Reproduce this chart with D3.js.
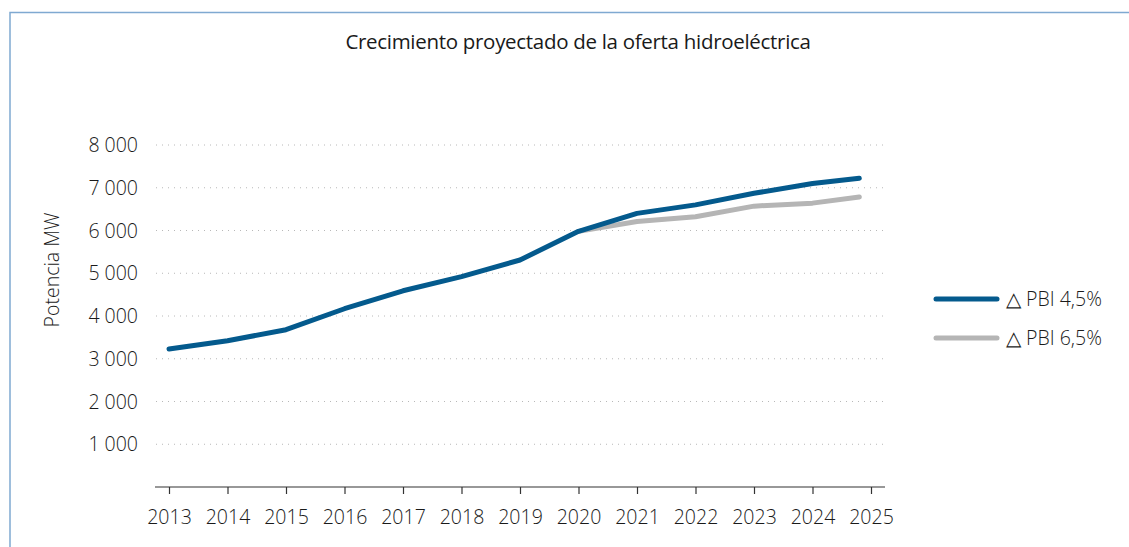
<!DOCTYPE html>
<html>
<head>
<meta charset="utf-8">
<script src="https://cdn.jsdelivr.net/npm/d3@7"></script>
<style>
  body { margin: 0; background: #fff; }
  svg text { font-family: "Open Sans", "Noto Sans", sans-serif; fill: #1a1a1a; font-weight: 300; }
</style>
</head>
<body>
<svg id="chart" width="1129" height="547"></svg>
<script>
// data
const years = [2013, 2014, 2015, 2016, 2017, 2018, 2019, 2020, 2021, 2022, 2023, 2024, 2024.8];
const pbi45 = [3230, 3420, 3680, 4170, 4590, 4920, 5310, 5980, 6400, 6600, 6870, 7100, 7220];
const pbi65 = [null, null, null, null, null, null, null, 5980, 6210, 6320, 6570, 6640, 6785];
const tickYears = [2013, 2014, 2015, 2016, 2017, 2018, 2019, 2020, 2021, 2022, 2023, 2024, 2025];
const yTicks = [1000, 2000, 3000, 4000, 5000, 6000, 7000, 8000];
const seriesNames = ["\u25B3 PBI 4,5%", "\u25B3 PBI 6,5%"];
const colors = ["#045a8d", "#b5b5b5"];

const svg = d3.select('#chart');

// frame
svg.append('path')
    .attr('d', 'M10,547 L10,12.5 L1129,12.5')
    .attr('fill', 'none')
    .attr('stroke', '#7fa9d1')
    .attr('stroke-width', 1.5);

// title
svg.append('text')
    .attr('x', 578)
    .attr('y', 49)
    .attr('text-anchor', 'middle')
    .style('font-size', '20.5px')
    .style('font-weight', 400)
    .style('letter-spacing', '-0.3px')
    .text('Crecimiento proyectado de la oferta hidroeléctrica');

const x = d3.scaleLinear().domain([2013, 2025]).range([169, 871]);
const y = d3.scaleLinear().domain([0, 8000]).range([487, 145]);

// grid
svg.append('g')
    .selectAll('line')
    .data(yTicks)
    .enter()
    .append('line')
    .attr('x1', 156)
    .attr('x2', 885)
    .attr('y1', (d) => y(d))
    .attr('y2', (d) => y(d))
    .attr('stroke', '#b8b8b8')
    .attr('stroke-width', 1)
    .attr('stroke-dasharray', '1,5');

// y labels
svg.append('g')
    .selectAll('text')
    .data(yTicks)
    .enter()
    .append('text')
    .attr('x', 138)
    .attr('y', (d) => y(d) + 7)
    .attr('text-anchor', 'end')
    .style('font-size', '19.5px')
    .style('white-space', 'pre')
    .text((d) => d3.format(',')(d).replace(',', ' '));

svg.append('text')
    .attr('transform', 'translate(59, 270) rotate(-90)')
    .attr('text-anchor', 'middle')
    .style('font-size', '19.5px')
    .text('Potencia MW');

// x axis
const xAxis = d3.axisBottom(x)
    .tickValues(tickYears)
    .tickFormat(d3.format('d'))
    .tickSize(7)
    .tickSizeOuter(0);

const gx = svg.append('g')
    .attr('transform', `translate(0, ${y(0)})`)
    .call(xAxis);
gx.select('.domain').remove();
gx.append('line')
    .attr('x1', 155)
    .attr('x2', 885)
    .attr('stroke', '#333')
    .attr('stroke-width', 1.2);
gx.selectAll('.tick line').attr('stroke', '#333').attr('stroke-width', 1.2);
gx.selectAll('.tick text')
    .attr('y', 23)
    .style('font-size', '19.5px')
    .style('fill', '#1a1a1a')
    .style('font-weight', 300)
    .style('font-family', '"Open Sans", "Noto Sans", sans-serif');

// lines
const line = d3.line()
    .defined((d) => d[1] != null)
    .x((d) => x(d[0]))
    .y((d) => y(d[1]));

const series = [pbi65, pbi45];
const seriesColors = [colors[1], colors[0]];
series.forEach((vals, i) => {
    svg.append('path')
        .datum(years.map((yr, j) => [yr, vals[j]]))
        .attr('d', line)
        .attr('fill', 'none')
        .attr('stroke', seriesColors[i])
        .attr('stroke-width', 5)
        .attr('stroke-linecap', 'round')
        .attr('stroke-linejoin', 'round');
});

// legend
const legend = svg.append('g')
    .attr('transform', 'translate(936, 299)');

const legendItem = legend.selectAll('g')
    .data(seriesNames)
    .enter()
    .append('g')
    .attr('transform', (d, i) => `translate(0, ${i * 39})`);

legendItem.append('line')
    .attr('x1', 0)
    .attr('x2', 61)
    .attr('stroke', (d, i) => colors[i])
    .attr('stroke-width', 5)
    .attr('stroke-linecap', 'round');

legendItem.append('text')
    .attr('x', 70)
    .attr('y', 7)
    .style('font-size', '19.5px')
    .text((d) => d);
</script>
</body>
</html>
